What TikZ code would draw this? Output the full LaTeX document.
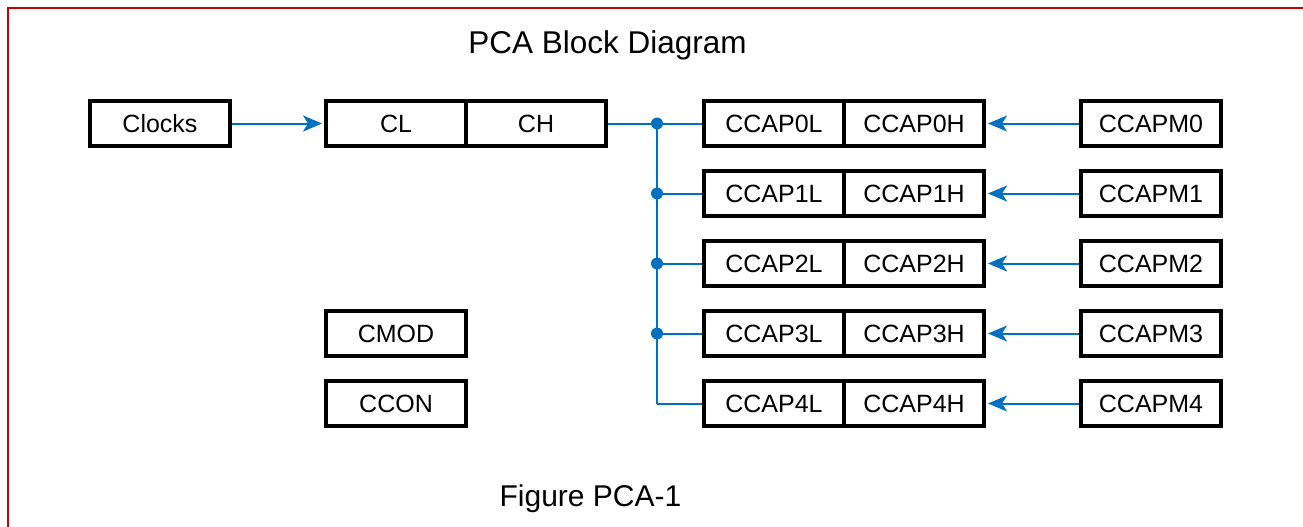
\documentclass[tikz,border=0pt]{standalone}
\usepackage{fontspec}
\setmainfont{Liberation Sans}
\usetikzlibrary{arrows.meta}
\definecolor{busblue}{RGB}{0,112,192}
\definecolor{framered}{RGB}{204,0,0}
\tikzset{reg/.style = {draw, line width = 4pt, minimum width = 140pt, minimum height = 45pt,
                       inner sep = 0, font = \fontsize{25}{30}\selectfont}}
\tikzset{bus/.style = {busblue, line width = 2pt}}
\tikzset{tip/.style = {-{Stealth[length = 19pt, width = 16pt, inset = 5pt]}, shorten > = 2pt}}
\tikzset{dot/.style = {fill = busblue, circle, inner sep = 0, minimum size = 12pt}}

\begin{document}
\begin{tikzpicture}[x = 1pt, y = -1pt]
      \useasboundingbox (0, 0) rectangle (1303, 527);
      \draw [framered, line width = 2pt] (7.5, 527) -- (7.5, 8.5) -- (1303, 8.5);

      \node [anchor = base, font = \fontsize{31.5}{36}\selectfont] (title) at (607.5, 53) {PCA Block Diagram};
      \node [anchor = base, font = \fontsize{30}{36}\selectfont] (caption) at (590.5, 506) {Figure PCA-1};

      \node [reg] (clocks) at (160, 123.5) {Clocks};
      \node [reg] (cl) at (396, 123.5) {CL};
      \node [reg] (ch) at (536, 123.5) {CH};
      \node [reg] (cmod) at (396, 333.5) {CMOD};
      \node [reg] (ccon) at (396, 403.5) {CCON};

      \foreach \i in {0, ..., 4} {
        \node [reg] (l\i) at (774, 123.5 + 70 * \i) {CCAP\i L};
        \node [reg] (h\i) at (914, 123.5 + 70 * \i) {CCAP\i H};
        \node [reg] (m\i) at (1151, 123.5 + 70 * \i) {CCAPM\i};
        \coordinate (j\i) at (657, 123.5 + 70 * \i);
        \draw [bus] (j\i) -- (l\i.west);
        \draw [bus, tip] (m\i.west) -- (h\i.east);
      }

      \draw [bus, tip] (clocks.east) -- (cl.west);
      \draw [bus] (ch.east) -- (j0) -- (j4);

      \foreach \i in {0, ..., 3}
        \node [dot] at (j\i) {};
    \end{tikzpicture}
\end{document}
